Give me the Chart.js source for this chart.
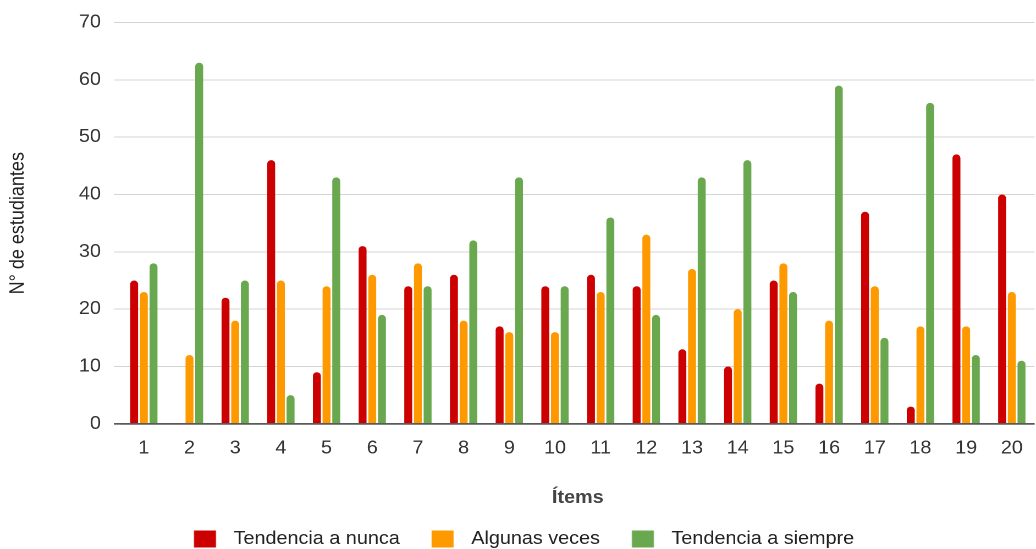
<!DOCTYPE html>
<html lang="es">
<head>
<meta charset="utf-8">
<title>Respuestas por ítem</title>
<script src="https://cdn.jsdelivr.net/npm/chart.js@4.4.1/dist/chart.umd.min.js"></script>
<style>
  html, body { margin: 0; padding: 0; background: #fff; overflow: hidden; }
  /* the chart is laid out 944px wide and widened by the same factor as the page */
  #frame { width: 944px; height: 549px; transform-origin: 0 0; transform: scaleX(1.0998); }
</style>
</head>
<body>
<div id="frame"><canvas id="chart"></canvas></div>
<script>
// Ítems del cuestionario
const items = ['1','2','3','4','5','6','7','8','9','10','11','12','13','14','15','16','17','18','19','20'];

// Número de estudiantes por respuesta
const tendenciaNunca   = [25, 0, 22, 46,  9, 31, 24, 26, 17, 24, 26, 24, 13, 10, 25,  7, 37,  3, 47, 40];
const algunasVeces     = [23, 12, 18, 25, 24, 26, 28, 18, 16, 16, 23, 33, 27, 20, 28, 18, 24, 17, 17, 23];
const tendenciaSiempre = [28, 63, 25,  5, 43, 19, 24, 32, 43, 24, 36, 19, 43, 46, 23, 59, 15, 56, 12, 11];

const yTicks = [0, 10, 20, 30, 40, 50, 60, 70];

const seriesNames  = ['Tendencia a nunca', 'Algunas veces', 'Tendencia a siempre'];
const seriesColors = ['#cc0000', '#ff9900', '#6aa84f'];
const seriesValues = [tendenciaNunca, algunasVeces, tendenciaSiempre];

const FONT = "'Liberation Sans', Arial, sans-serif";

// Legend swatch: a square with some room on both sides
function swatch(color) {
  const c = document.createElement('canvas');
  c.width = 50;
  c.height = 17;
  const g = c.getContext('2d');
  g.fillStyle = color;
  g.fillRect(23, 0, 20, 17);
  return c;
}
const swatches = seriesColors.map(swatch);

// Nudge the legend row a little to the left of the centre
const legendOffset = {
  id: 'legendOffset',
  afterLayout(chart) {
    if (chart.legend) {
      chart.legend.left -= 7;
      chart.legend.right -= 7;
    }
  }
};

new Chart(document.getElementById('chart'), {
  type: 'bar',
  data: {
    labels: items,
    datasets: seriesNames.map((name, i) => ({
      label: name,
      data: seriesValues[i],
      backgroundColor: seriesColors[i],
      borderWidth: 0,
      borderRadius: { topLeft: 4, topRight: 4, bottomLeft: 0, bottomRight: 0 },
      borderSkipped: 'start',
      barPercentage: 0.82,
      categoryPercentage: 0.636
    }))
  },
  plugins: [legendOffset],
  options: {
    responsive: true,
    maintainAspectRatio: false,
    animation: false,
    devicePixelRatio: 2,
    layout: { padding: { top: 22, right: 0, bottom: -9, left: 0 } },
    plugins: {
      tooltip: { enabled: false },
      legend: {
        position: 'bottom',
        labels: {
          usePointStyle: true,
          pointStyleWidth: 50,
          boxHeight: 17,
          padding: 6,
          color: '#222',
          font: { family: FONT, size: 18 },
          generateLabels(chart) {
            const list = Chart.defaults.plugins.legend.labels.generateLabels(chart);
            list.forEach((it, i) => { it.pointStyle = swatches[i]; });
            return list;
          }
        }
      }
    },
    scales: {
      x: {
        grid: { display: false, drawTicks: false },
        border: { display: false },
        ticks: { color: '#333', padding: 14, font: { family: FONT, size: 18 } },
        title: {
          display: true,
          text: 'Ítems',
          color: '#444',
          font: { family: FONT, size: 18, weight: 'bold' },
          padding: { top: 14, bottom: 15 }
        }
      },
      y: {
        min: 0,
        max: 70,
        afterBuildTicks(scale) { scale.ticks = yTicks.map(v => ({ value: v })); },
        afterFit(scale) { scale.width = 110; },
        grid: {
          color: c => (c.tick && c.tick.value === 0 ? '#5a5a5a' : '#d4d4d4'),
          lineWidth: c => (c.tick && c.tick.value === 0 ? 1.7 : 1),
          tickLength: 6.4,
          drawTicks: true
        },
        border: { display: false },
        ticks: { color: '#333', padding: 11.8, font: { family: FONT, size: 18 } },
        title: {
          display: true,
          text: 'N° de estudiantes',
          color: '#222',
          font: { family: FONT, size: 18 },
          padding: { top: 5.6, bottom: 44 }
        }
      }
    }
  }
});
</script>
</body>
</html>
